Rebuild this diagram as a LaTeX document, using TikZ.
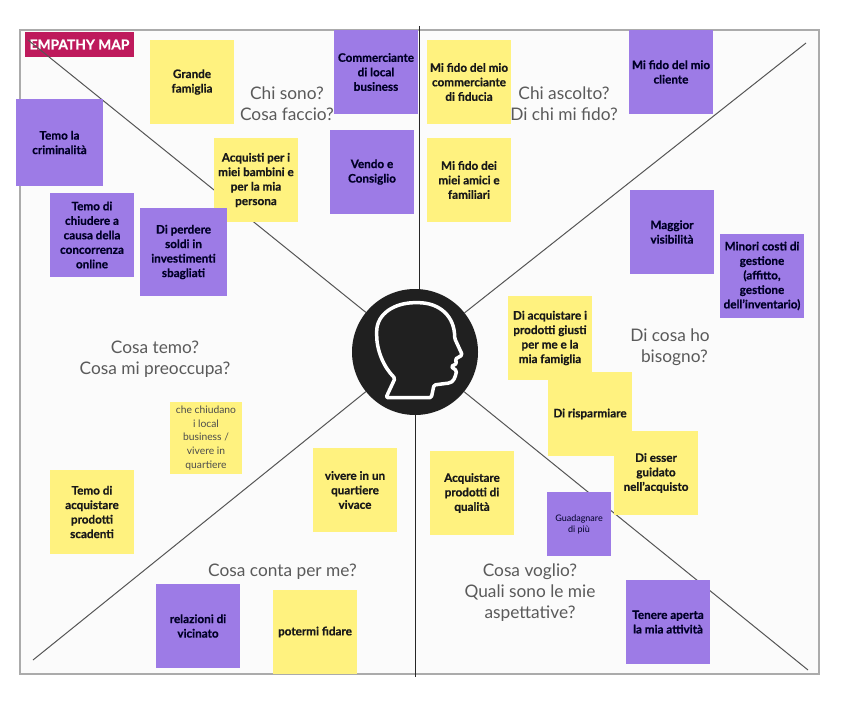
\documentclass[tikz,border=0pt]{standalone}
\usepackage{fontspec}
\setmainfont[BoldFeatures={FakeBold=0.6}]{Lato}
\usetikzlibrary{positioning}
\definecolor{noteyellow}{HTML}{FFF27F}
\definecolor{notepurple}{HTML}{9D7BE6}
\definecolor{mapred}{HTML}{BE1A5C}
\definecolor{framegray}{HTML}{ABABAB}
\definecolor{paper}{HTML}{FBFBFB}
\definecolor{linegray}{HTML}{555555}
\definecolor{headblack}{HTML}{202020}
\definecolor{asktext}{HTML}{5A5A5A}

\begin{document}
\begin{tikzpicture}[
    x=1pt, y=-1pt,
    note/.style={rectangle, minimum width=84pt, minimum height=84pt, inner sep=0pt, outer sep=0pt, align=center, font=\fontsize{11.7}{14.5}\selectfont\bfseries},
    yellownote/.style={note, fill=noteyellow, text=black!90},
    purplenote/.style={note, fill=notepurple, text=black!85!blue},
    bignote/.style={purplenote, minimum width=87pt, minimum height=87pt},
    ask/.style={align=center, inner sep=0pt, text=asktext, font=\fontsize{17.3}{21}\selectfont},
    line/.style={draw=linegray, line width=1pt},
    midline/.style={draw=black!85, line width=.9pt}
]
\useasboundingbox (0,0) rectangle (842,719);
\fill [white] (0,0) rectangle (842,719);
\draw [fill=paper, draw=framegray, line width=1.5pt] (20,30) rectangle (819,674);

% Place the title and the head
\node [fill=mapred, text=white, minimum width=109pt, minimum height=25pt, inner sep=0pt, font=\fontsize{13.8}{14}\selectfont\bfseries] (title) at (79.5,44.5) {EMPATHY MAP};
\node [circle, fill=headblack, minimum size=126pt, inner sep=0pt, outer sep=0pt] (head) at (415,352) {};

\begin{scope}[shift={(300,270)}, x=.3333pt, y=-.3333pt]
\draw [white, line width=3.5pt, line join=round, rounded corners=1.5pt]
    (258,383) -- (285,325)
    .. controls (250,290) and (230,240) .. (230,190)
    .. controls (230,130) and (285,98) .. (350,98)
    .. controls (420,98) and (464,140) .. (464,205)
    -- (487,255) -- (465,268) -- (471,280) -- (453,290) -- (470,302)
    .. controls (466,320) and (462,338) .. (440,340)
    -- (402,345) -- (394,383) -- cycle;
\end{scope}

% Free ends of the lines
\coordinate (topend) at (419,26);
\coordinate (bottomend) at (415,677);
\coordinate (nw) at (28,40);
\coordinate (ne) at (806,43);
\coordinate (se) at (808,670);
\coordinate (sw) at (33,660);

% Draw the lines
\path [midline] (topend) -- (topend |- head.north);
\path [midline] (head) -- (bottomend);
\path [line] (head) -- (nw);
\path [line] (head) -- (ne);
\path [line] (head) -- (se);
\path [line] (head) -- (sw);

% Place the notes, chi sono
\node [yellownote] (famiglia) at (192,82) {Grande\\famiglia};
\node [purplenote, right=100pt of famiglia, yshift=10pt] (commerciante) {Commerciante\\di local\\business};
\node [purplenote, below=16pt of commerciante, xshift=-4pt] (vendo) {Vendo e\\Consiglio};
\node [yellownote, left=32pt of vendo, yshift=-8pt] (acquisti) {Acquisti per i\\miei bambini e\\per la mia\\persona};

% chi ascolto
\node [yellownote, right=193pt of famiglia] (fiducia) {Mi fido del mio\\commerciante\\di fiducia};
\node [yellownote, below=14pt of fiducia] (amici) {Mi fido dei\\miei amici e\\familiari};
\node [purplenote, right=118pt of fiducia, yshift=10pt] (cliente) {Mi fido del mio\\cliente};

% di cosa ho bisogno
\node [purplenote, below=76pt of cliente, xshift=1pt] (visibilita) {Maggior\\visibilità};
\node [purplenote, right=6pt of visibilita, yshift=-44pt] (costi) {Minori costi di\\gestione\\(affitto,\\gestione\\dell'inventario)};
\node [yellownote] (prodotti) at (550,338) {Di acquistare i\\prodotti giusti\\per me e la\\mia famiglia};
\node [yellownote] (risparmio) at (590,414) {Di risparmiare};
\node [yellownote] (guidato) at (656,473) {Di esser\\guidato\\nell'acquisto};

% cosa voglio
\node [yellownote] (qualita) at (472,493) {Acquistare\\prodotti di\\qualità};
\node [purplenote, minimum width=64pt, minimum height=64pt, font=\fontsize{9}{11}\selectfont] (guadagno) at (579,524) {Guadagnare\\di più};
\node [purplenote] (attivita) at (668,622) {Tenere aperta\\la mia attività};

% cosa conta per me
\node [yellownote] (vivace) at (355,490) {vivere in un\\quartiere\\vivace};
\node [purplenote] (vicinato) at (198,626) {relazioni di\\vicinato};
\node [yellownote, right=33pt of vicinato, yshift=-6pt] (fidare) {potermi fidare};

% cosa temo
\node [bignote] (crimine) at (59.5,142.5) {Temo la\\criminalità};
\node [purplenote, below=7pt of crimine, xshift=32.5pt] (chiudere) {Temo di\\chiudere a\\causa della\\concorrenza\\online};
\node [bignote, right=6pt of chiudere, yshift=-17pt] (soldi) {Di perdere\\soldi in\\investimenti\\sbagliati};
\node [yellownote] (scadenti) at (92,512) {Temo di\\acquistare\\prodotti\\scadenti};
\node [yellownote, minimum width=72pt, minimum height=72pt, font=\fontsize{10.3}{13.7}\selectfont, text=black!70] (quartiere) at (206,438) {che chiudano\\i local\\business /\\vivere in\\quartiere};

% Place the questions
\node [ask] (chisono) at (287,104) {Chi sono?\\Cosa faccio?};
\node [ask] (chiascolto) at (564,104) {Chi ascolto?\\Di chi mi fido?};
\node [ask] (temo) at (155,359) {Cosa temo?\\Cosa mi preoccupa?};
\node [ask] (bisogno) at (670,347) {Di cosa ho\\\ \ bisogno?};
\node [ask] (conta) at (282.5,572) {Cosa conta per me?};
\node [ask] (voglio) at (530,593) {Cosa voglio?\\Quali sono le mie\\aspettative?};

\end{tikzpicture}
\end{document}
